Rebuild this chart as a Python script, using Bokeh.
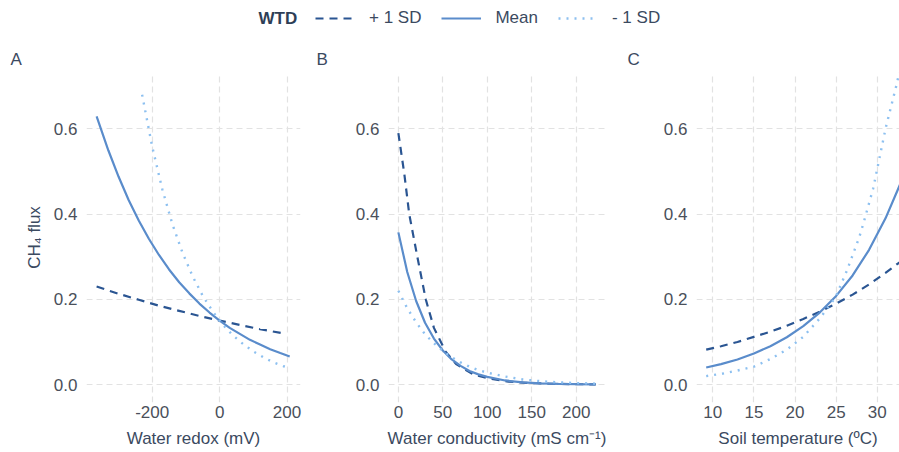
from bokeh.plotting import figure
from bokeh.models import Range1d, FixedTicker, Legend, LegendItem, ColumnDataSource, Label
from bokeh.layouts import column, row
from bokeh.embed import file_html
from bokeh.resources import INLINE

# ---------------- data ----------------
series_names = ["+ 1 SD", "Mean", "- 1 SD"]
legend_title = "WTD"
y_label = "CH\u2084 flux"
y_ticks = [0.0, 0.2, 0.4, 0.6]
y_tick_labels = ["0.0", "0.2", "0.4", "0.6"]

# Panel A: water redox (mV)
a_title = "A"
a_xlabel = "Water redox (mV)"
a_ticks = [-200, 0, 200]
a_tick_labels = ["-200", "0", "200"]
a_plus_x = [-365, -300, -240, -180, -120, -60, 0, 60, 120, 190]
a_plus_y = [0.230, 0.213, 0.199, 0.185, 0.173, 0.161, 0.150, 0.140, 0.130, 0.120]
a_mean_x = [-365, -330, -300, -270, -240, -210, -180, -150, -120, -90, -60, -30, 0,
            30, 60, 90, 120, 150, 180, 208]
a_mean_y = [0.629, 0.549, 0.488, 0.433, 0.385, 0.342, 0.304, 0.270, 0.240, 0.214, 0.190,
            0.169, 0.150, 0.133, 0.119, 0.105, 0.094, 0.083, 0.074, 0.066]
a_minus_x = [-230, -200, -170, -140, -110, -80, -50, -20, 10, 40, 70, 100, 130, 160, 190, 210]
a_minus_y = [0.680, 0.558, 0.458, 0.376, 0.309, 0.254, 0.208, 0.171, 0.140, 0.115, 0.095,
             0.078, 0.064, 0.052, 0.043, 0.038]

# Panel B: water conductivity (mS cm-1)
b_title = "B"
b_xlabel = "Water conductivity (mS cm\u207b\u00b9)"
b_ticks = [0, 50, 100, 150, 200]
b_tick_labels = ["0", "50", "100", "150", "200"]
b_plus_x = [0, 6.7, 12.2, 21.5, 30.8, 40, 53, 65, 84, 103, 124, 144, 170, 200, 222]
b_plus_y = [0.590, 0.494, 0.400, 0.298, 0.200, 0.133, 0.078, 0.048, 0.024, 0.014, 0.007,
            0.004, 0.002, 0.001, 0.0005]
b_mean_x = [0, 10, 20, 30, 40, 50, 60, 70, 80, 90, 100, 120, 140, 160, 180, 200, 222]
b_mean_y = [0.357, 0.264, 0.196, 0.145, 0.108, 0.080, 0.059, 0.044, 0.032, 0.024, 0.018,
            0.0097, 0.0053, 0.0030, 0.0016, 0.0009, 0.0005]
b_minus_x = [0, 10, 20, 30, 40, 50, 60, 70, 80, 90, 100, 120, 140, 160, 180, 200, 222]
b_minus_y = [0.220, 0.179, 0.146, 0.118, 0.097, 0.079, 0.064, 0.052, 0.042, 0.034, 0.028,
             0.019, 0.012, 0.008, 0.0054, 0.0036, 0.0023]

# Panel C: soil temperature (ºC)
c_title = "C"
c_xlabel = "Soil temperature (\u00baC)"
c_ticks = [10, 15, 20, 25, 30]
c_tick_labels = ["10", "15", "20", "25", "30"]
c_plus_x = [9.2, 11, 13, 15, 17, 19, 21, 23, 25, 27, 29, 31, 33]
c_plus_y = [0.082, 0.090, 0.100, 0.112, 0.124, 0.138, 0.154, 0.171, 0.190, 0.211, 0.235,
            0.262, 0.291]
c_mean_x = [9.2, 11, 13, 15, 17, 19, 21, 23, 25, 27, 29, 31, 33]
c_mean_y = [0.040, 0.048, 0.059, 0.073, 0.090, 0.111, 0.137, 0.169, 0.208, 0.256, 0.316,
            0.390, 0.480]
c_minus_x = [9.2, 11, 13, 15, 17, 19, 21, 23, 24.9, 26.3, 27.8, 28.4, 29.5, 31, 32.3, 33]
c_minus_y = [0.020, 0.025, 0.033, 0.042, 0.060, 0.082, 0.112, 0.155, 0.204, 0.267, 0.345,
             0.384, 0.460, 0.600, 0.700, 0.760]

# ---------------- styling ----------------
FONT = "Liberation Sans"
FS = "17px"
TICK_COLOR = "#4a505a"
TITLE_COLOR = "#3b4a5f"
GRID_COLOR = "#e2e2e2"
styles = [
    dict(line_color="#2a5592", line_width=2.2, line_dash="8 6"),
    dict(line_color="#5a8ccb", line_width=2.2, line_dash="solid"),
    dict(line_color="#8dc0f0", line_width=2.4, line_dash="2 6"),
]

Y_RANGE = (-0.042, 0.732)


def make_panel(title, xlabel, xr, ticks, tick_labels, series, width,
               border_left, border_right, title_offset, show_ylabel):
    p = figure(width=width, height=422, output_backend="svg", toolbar_location=None,
               x_range=Range1d(*xr), y_range=Range1d(*Y_RANGE),
               min_border_left=border_left, min_border_right=border_right,
               min_border_top=42, min_border_bottom=50)
    p.outline_line_color = None
    p.background_fill_color = "white"
    p.border_fill_color = "white"
    p.title.text = title
    p.title.align = "left"
    p.title.offset = title_offset
    p.title.text_font = FONT
    p.title.text_font_size = FS
    p.title.text_font_style = "normal"
    p.title.text_color = TITLE_COLOR
    p.title.standoff = 8
    for ax in (p.xaxis[0], p.yaxis[0]):
        ax.axis_line_color = None
        ax.major_tick_line_color = None
        ax.minor_tick_line_color = None
        ax.major_tick_out = 0
        ax.major_tick_in = 0
        ax.minor_tick_out = 0
        ax.major_label_text_font = FONT
        ax.major_label_text_font_size = FS
        ax.major_label_text_color = TICK_COLOR
        ax.axis_label_text_font = FONT
        ax.axis_label_text_font_size = FS
        ax.axis_label_text_font_style = "normal"
        ax.axis_label_text_color = TITLE_COLOR
    p.xaxis[0].ticker = FixedTicker(ticks=ticks)
    p.xaxis[0].major_label_overrides = {t: l for t, l in zip(ticks, tick_labels)}
    p.xaxis[0].major_label_standoff = 3
    p.xaxis[0].axis_label = xlabel
    p.xaxis[0].axis_label_standoff = 8
    p.yaxis[0].ticker = FixedTicker(ticks=y_ticks)
    p.yaxis[0].major_label_overrides = {t: l for t, l in zip(y_ticks, y_tick_labels)}
    p.yaxis[0].major_label_standoff = 9
    if show_ylabel:
        p.yaxis[0].axis_label = y_label
        p.yaxis[0].axis_label_standoff = 7
    for g in (p.xgrid[0], p.ygrid[0]):
        g.grid_line_color = GRID_COLOR
        g.grid_line_width = 1.2
        g.grid_line_dash = "6 4"
        g.minor_grid_line_color = None
    p.xgrid[0].ticker = FixedTicker(ticks=ticks)
    p.ygrid[0].ticker = FixedTicker(ticks=y_ticks)
    for (xs, ys), st in zip(series, styles):
        p.line(x=xs, y=ys, **st)
    return p


pA = make_panel(a_title, a_xlabel, (-395, 240), a_ticks, a_tick_labels,
                [(a_plus_x, a_plus_y), (a_mean_x, a_mean_y), (a_minus_x, a_minus_y)],
                310, 86, 10, -76, True)
pB = make_panel(b_title, b_xlabel, (-11.1, 233), b_ticks, b_tick_labels,
                [(b_plus_x, b_plus_y), (b_mean_x, b_mean_y), (b_minus_x, b_minus_y)],
                310, 78, 15, -72, False)
pC = make_panel(c_title, c_xlabel, (8.02, 32.7), c_ticks, c_tick_labels,
                [(c_plus_x, c_plus_y), (c_mean_x, c_mean_y), (c_minus_x, c_minus_y)],
                279, 76, 0, -69, False)

# ---------------- legend strip ----------------
pL = figure(width=899, height=30, output_backend="svg", toolbar_location=None,
            x_range=Range1d(0, 899), y_range=Range1d(0, 30),
            min_border_left=0, min_border_right=0, min_border_top=0, min_border_bottom=0)
pL.axis.visible = False
pL.grid.visible = False
pL.outline_line_color = None
items = []
nan = float("nan")
for name, st in zip(series_names, styles):
    r = pL.line(x="x", y="y", source=ColumnDataSource(dict(x=[nan], y=[nan])), **st)
    items.append(LegendItem(label=name, renderers=[r]))
legend = Legend(items=items, orientation="horizontal", location=(315, 2))
legend.border_line_color = None
legend.background_fill_alpha = 0
legend.padding = 0
legend.margin = 0
legend.spacing = 20
legend.glyph_width = 40
legend.glyph_height = 20
legend.label_standoff = 14
legend.label_text_font = FONT
legend.label_text_font_size = FS
legend.label_text_color = TITLE_COLOR
pL.add_layout(legend, "center")
pL.add_layout(Label(x=258, y=12, text=legend_title, text_font=FONT, text_font_size=FS,
                    text_font_style="bold", text_color="#2e3e56", text_baseline="middle"))

layout = column(pL, row(pA, pB, pC))
open("out.html", "w").write(file_html(layout, INLINE))
